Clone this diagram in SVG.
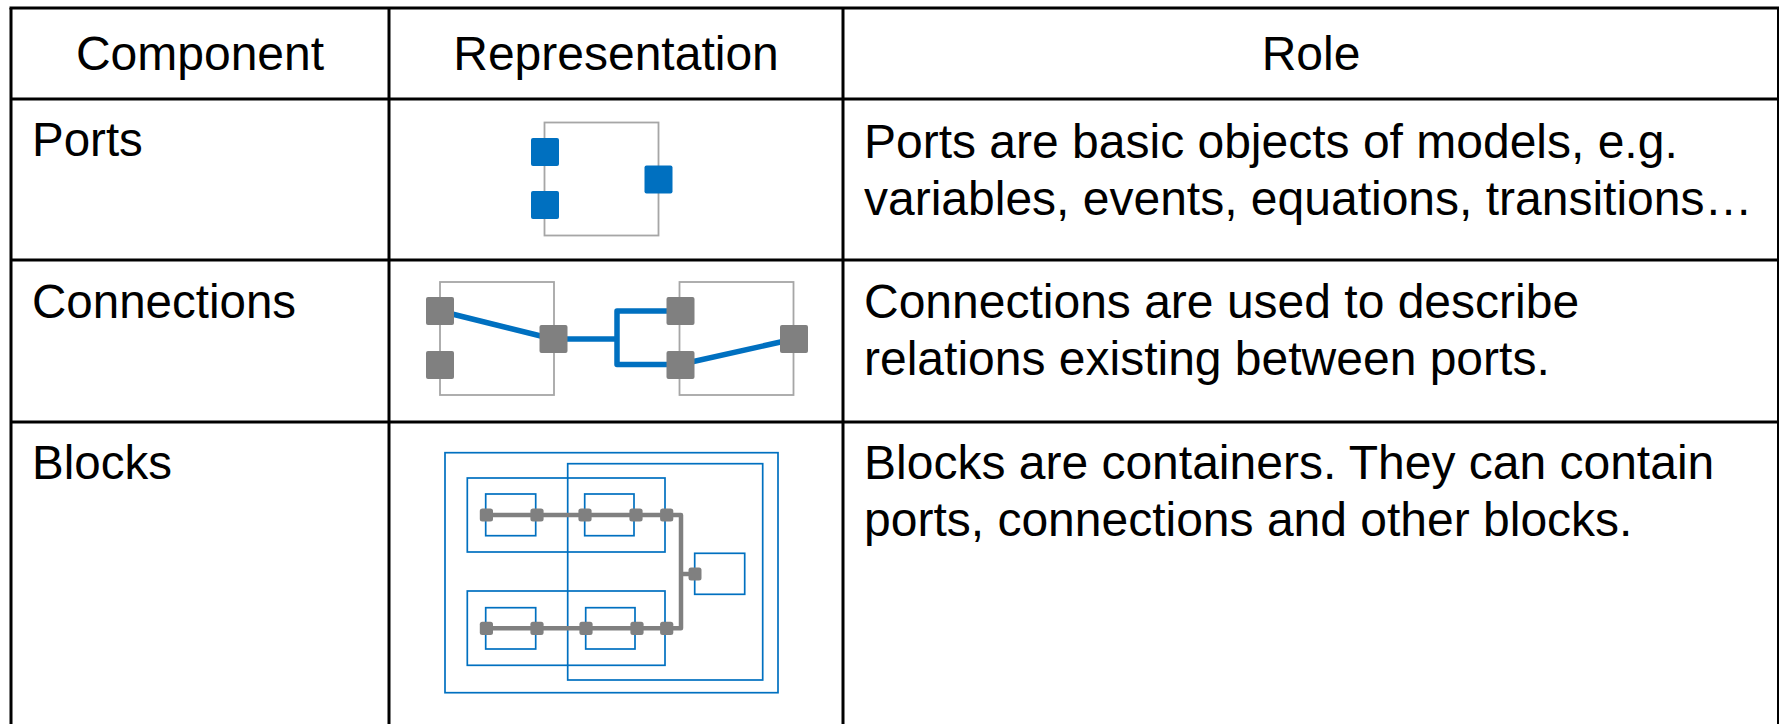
<svg xmlns="http://www.w3.org/2000/svg" width="1779" height="724" viewBox="0 0 1779 724">
  <style>
    .txt { font-family: "Liberation Sans", Arial, sans-serif; font-size: 48px; fill: #000; }
    .lbl { font-size: 47.5px; }
    .hdr { text-anchor: middle; }
    .grid { stroke: #000; stroke-width: 3; fill: none; }
    .frame { fill: #fff; stroke: #A6A6A6; stroke-width: 1.8; }
    .bport { fill: #0070C0; }
    .gport { fill: #808080; }
    .bwire { fill: none; stroke: #0070C0; stroke-width: 5.5; stroke-linejoin: round; }
    .blk { fill: none; stroke: #0070C0; stroke-width: 1.7; }
    .gwire { fill: none; stroke: #808080; stroke-width: 4.5; stroke-linejoin: round; }
  </style>
  <rect width="1779" height="724" fill="#fff"/>

  <!-- table grid -->
  <g id="table-grid" class="grid">
    <line x1="9.5" y1="8" x2="1779" y2="8"/>
    <line x1="11" y1="8" x2="11" y2="724"/>
    <line x1="1778.5" y1="8" x2="1778.5" y2="724"/>
    <line x1="389" y1="8" x2="389" y2="724"/>
    <line x1="843" y1="8" x2="843" y2="724"/>
    <line x1="11" y1="99" x2="1779" y2="99"/>
    <line x1="11" y1="260" x2="1779" y2="260"/>
    <line x1="11" y1="422" x2="1779" y2="422"/>
  </g>

  <!-- header row -->
  <g id="header">
    <text class="txt hdr" x="200" y="70">Component</text>
    <text class="txt hdr" x="616" y="70">Representation</text>
    <text class="txt hdr" x="1311" y="70">Role</text>
  </g>

  <!-- row: Ports -->
  <g id="row-ports">
    <text class="txt lbl" x="32" y="156">Ports</text>
    <g id="ports-figure">
      <rect class="frame" x="544.5" y="122.5" width="114" height="113"/>
      <rect class="bport" x="531" y="138" width="28" height="28" rx="2"/>
      <rect class="bport" x="531" y="191" width="28" height="28" rx="2"/>
      <rect class="bport" x="644.5" y="165.5" width="28" height="28" rx="2"/>
    </g>
    <text class="txt" x="864" y="158">Ports are basic objects of models, e.g.</text>
    <text class="txt" x="864" y="215">variables, events, equations, transitions…</text>
  </g>

  <!-- row: Connections -->
  <g id="row-connections">
    <text class="txt lbl" x="32" y="318">Connections</text>
    <g id="connections-figure">
      <rect class="frame" x="440" y="282" width="114" height="113"/>
      <rect class="frame" x="679.5" y="282" width="114" height="113"/>
      <g id="connections-wires">
        <path class="bwire" d="M440,311 L553,339"/>
        <path class="bwire" d="M553,339 H617"/>
        <path class="bwire" d="M680,311 H617 V364.5 H680"/>
        <path class="bwire" d="M680,364.5 L794,339"/>
      </g>
      <rect class="gport" x="426" y="297" width="28" height="28" rx="2"/>
      <rect class="gport" x="426" y="351" width="28" height="28" rx="2"/>
      <rect class="gport" x="539.5" y="325" width="28" height="28" rx="2"/>
      <rect class="gport" x="666.5" y="297" width="28" height="28" rx="2"/>
      <rect class="gport" x="666.5" y="351" width="28" height="28" rx="2"/>
      <rect class="gport" x="780" y="325" width="28" height="28" rx="2"/>
    </g>
    <text class="txt" x="864" y="318">Connections are used to describe</text>
    <text class="txt" x="864" y="375">relations existing between ports.</text>
  </g>

  <!-- row: Blocks -->
  <g id="row-blocks">
    <text class="txt lbl" x="32" y="479">Blocks</text>
    <g id="blocks-figure">
      <rect class="blk" x="445" y="452.7" width="333" height="240"/>
      <rect class="blk" x="567.7" y="463.7" width="195" height="216.3"/>
      <rect class="blk" x="467.3" y="478" width="197.7" height="74"/>
      <rect class="blk" x="467.3" y="591" width="197.7" height="74.3"/>
      <rect class="blk" x="485.7" y="494" width="50" height="41.7"/>
      <rect class="blk" x="584.7" y="494" width="49.3" height="41.7"/>
      <rect class="blk" x="485.7" y="607.7" width="50" height="41.3"/>
      <rect class="blk" x="585.7" y="607.7" width="49.3" height="41.3"/>
      <rect class="blk" x="694.7" y="553.3" width="50" height="41"/>
      <g id="blocks-wires">
        <path class="gwire" d="M486.5,515 H681 V628.3 H486.5"/>
        <path class="gwire" d="M681,574 H695"/>
      </g>
      <rect class="gport" x="479.8" y="508.4" width="13.2" height="13.2" rx="2.5"/>
      <rect class="gport" x="530.4" y="508.4" width="13.2" height="13.2" rx="2.5"/>
      <rect class="gport" x="578.4" y="508.4" width="13.2" height="13.2" rx="2.5"/>
      <rect class="gport" x="629.4" y="508.4" width="13.2" height="13.2" rx="2.5"/>
      <rect class="gport" x="660.1" y="508.4" width="13.2" height="13.2" rx="2.5"/>
      <rect class="gport" x="479.8" y="621.7" width="13.2" height="13.2" rx="2.5"/>
      <rect class="gport" x="530.4" y="621.7" width="13.2" height="13.2" rx="2.5"/>
      <rect class="gport" x="579.4" y="621.7" width="13.2" height="13.2" rx="2.5"/>
      <rect class="gport" x="630.4" y="621.7" width="13.2" height="13.2" rx="2.5"/>
      <rect class="gport" x="660.1" y="621.7" width="13.2" height="13.2" rx="2.5"/>
      <rect class="gport" x="688.5" y="567.5" width="13" height="13" rx="2.5"/>
    </g>
    <text class="txt" x="864" y="479">Blocks are containers. They can contain</text>
    <text class="txt" x="864" y="536">ports, connections and other blocks.</text>
  </g>
</svg>
